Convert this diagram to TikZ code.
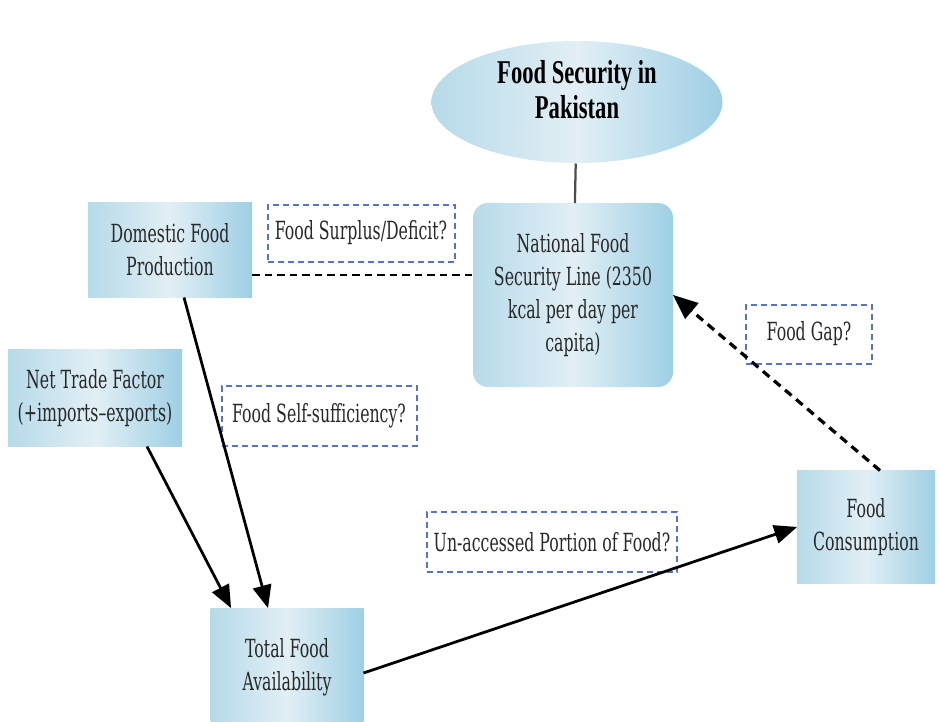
\documentclass[tikz,border=0pt]{standalone}
\usepackage{fontspec}
\setmainfont{DejaVu Serif}[FakeStretch=0.63]
\newfontfamily\titlefont{Liberation Serif}[FakeStretch=0.68]
\usepackage{tikz}
\usetikzlibrary{arrows, positioning, shapes.geometric}

\definecolor{boxL}{RGB}{182,218,233}
\definecolor{boxM}{RGB}{226,239,245}
\definecolor{boxR}{RGB}{158,207,228}
\definecolor{qblue}{RGB}{84,116,196}
\definecolor{txt}{RGB}{40,40,40}

\tikzset{
  infobox/.style={rectangle, left color=boxL, right color=boxR, middle color=boxM,
    inner sep=0pt, outer sep=0pt, align=center, text=txt,
    font=\fontsize{10}{13.2}\selectfont},
  qbox/.style={rectangle, draw=qblue, line width=0.8pt, dash pattern=on 2.4pt off 1.6pt,
    inner sep=0pt, align=center, text=txt, font=\fontsize{10}{13.2}\selectfont},
  flow/.style={line width=1.1pt, -triangle 45},
  gapline/.style={line width=1.1pt, dash pattern=on 3pt off 2pt},
  gaparrow/.style={line width=1.3pt, dash pattern=on 3.4pt off 2.4pt, -triangle 45}
}

\begin{document}
\begin{tikzpicture}[x=0.4pt, y=-0.4pt]
\useasboundingbox (0,0) rectangle (940,721);
\clip (0,0) rectangle (940,721);

% main goal
\node[ellipse, left color=boxL, right color=boxR, middle color=boxM, inner sep=0pt,
  minimum width=116.4pt, minimum height=48.8pt, align=center, text=black,
  font=\titlefont\bfseries\fontsize{13.3}{14}\selectfont] (fsp) at (577,102)
  {Food Security in\\ Pakistan\\[-4pt]\mbox{}};

% boxes
\node[infobox, rounded corners=6pt, minimum width=80pt, minimum height=73.6pt] (nfsl) at (573,295)
  {National Food\\ Security Line (2350\\ kcal per day per\\ capita)};
\node[infobox, minimum width=65.6pt, minimum height=38pt] (dfp) at (170,250) {Domestic Food\\ Production};
\node[infobox, minimum width=69.6pt, minimum height=38.8pt] (ntf) at (95,398) {Net Trade Factor\\ (+imports--exports)};
\node[infobox, minimum width=61.2pt, minimum height=47.2pt] (tfa) at (287,667) {Total Food\\ Availability};
\node[infobox, minimum width=55.2pt, minimum height=45.2pt] (fc) at (866,527) {Food\\ Consumption};

% questions
\node[qbox, minimum width=74.8pt, minimum height=22.8pt] (surplus) at (361,233) {Food Surplus/Deficit?};
\node[qbox, minimum width=78pt, minimum height=24pt] (selfsuff) at (319,416) {Food Self-sufficiency?};
\node[qbox, minimum width=100pt, minimum height=24pt] (unacc) at (552,542) {Un-accessed Portion of Food?};
\node[qbox, minimum width=50.4pt, minimum height=23.6pt] (gap) at (809,334) {Food Gap?};

% connectors
\draw[line width=0.9pt, black!70] (fsp) -- (nfsl);
\draw[gapline] ([yshift=-10pt]dfp.east) -- ([yshift=-10pt]dfp.east -| nfsl.west);
\draw[flow] ([xshift=5.6pt]dfp.south) -- ([xshift=-7.6pt]tfa.north);
\draw[flow] ([xshift=20.8pt]ntf.south) -- ([xshift=-22.4pt]tfa.north);
\draw[flow] ([yshift=-2.4pt]tfa.east) -- (fc.west);
\draw[gaparrow] ([xshift=5.6pt]fc.north) -- (nfsl.east);
\end{tikzpicture}
\end{document}
